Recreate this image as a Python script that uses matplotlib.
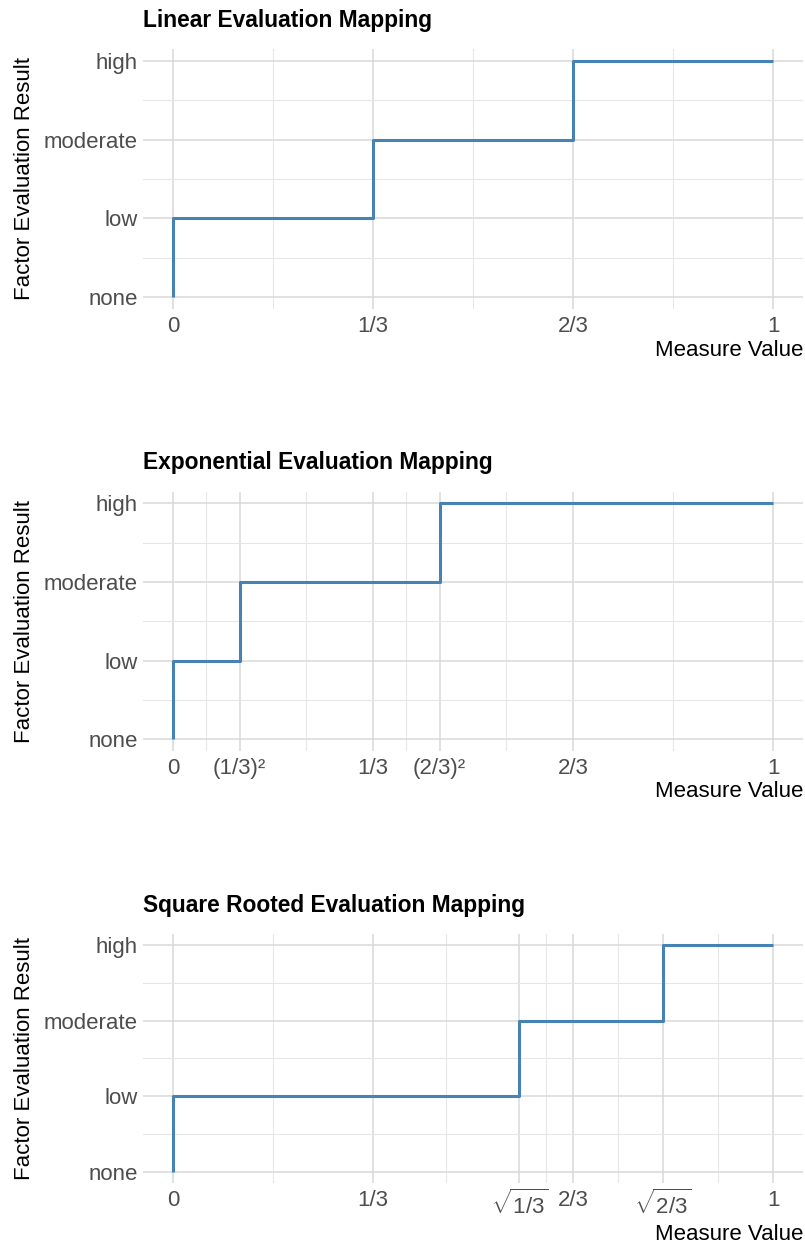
import numpy as np
import matplotlib
matplotlib.use('Agg')
import matplotlib.pyplot as plt

plt.rcParams['font.family'] = ['Liberation Sans', 'DejaVu Sans']
plt.rcParams['mathtext.fontset'] = 'custom'
plt.rcParams['mathtext.rm'] = 'Liberation Sans'
plt.rcParams['mathtext.it'] = 'Liberation Sans:italic'
plt.rcParams['mathtext.bf'] = 'Liberation Sans:bold'

# Daten
levels = ['none', 'low', 'moderate', 'high']
level_values = [0, 1, 2, 3]

titles = ['Linear Evaluation Mapping',
          'Exponential Evaluation Mapping',
          'Square Rooted Evaluation Mapping']

# Schwellen (Grenzen zwischen low/moderate/high)
linear_steps = [1/3, 2/3]
exp_steps = [(1/3)**2, (2/3)**2]
sqrt_steps = [np.sqrt(1/3), np.sqrt(2/3)]

linear_breaks = [0, 1/3, 2/3, 1]
linear_labels = ['0', '1/3', '2/3', '1']
exp_breaks = [0, (1/3)**2, 1/3, (2/3)**2, 2/3, 1]
exp_labels = ['0', '(1/3)²', '1/3', '(2/3)²', '2/3', '1']
sqrt_breaks = [0, 1/3, np.sqrt(1/3), 2/3, np.sqrt(2/3), 1]
sqrt_labels = ['0', '1/3', r'$\sqrt{1/3}$', '2/3', r'$\sqrt{2/3}$', '1']

panels = [
    (titles[0], linear_steps, linear_breaks, linear_labels),
    (titles[1], exp_steps, exp_breaks, exp_labels),
    (titles[2], sqrt_steps, sqrt_breaks, sqrt_labels),
]

W, H = 805, 1243
fig = plt.figure(figsize=(W / 100, H / 100), dpi=100)

# Panel-Positionen in Pixeln (oben, unten, Abstand x-Titel)
boxes = [(49.2, 308.8, 47), (491.5, 751.0, 46), (933.7, 1183.0, 57)]
left, right = 143, 803

line_col = '#4682B4'
grid_major = '#D9D9D9'
grid_minor = '#E6E6E6'
text_grey = '#4D4D4D'

for (title, steps, breaks, labels), (top, bottom, xt_off) in zip(panels, boxes):
    ax = fig.add_axes([left / W, 1 - bottom / H, (right - left) / W, (bottom - top) / H])
    x = [0, 0, steps[0], steps[1], 1]
    y = [0, 1, 2, 3, 3]
    ax.plot(x, y, drawstyle='steps-post', color=line_col, lw=2.2,
            solid_capstyle='butt', zorder=3)

    ax.set_xlim(-0.05, 1.05)
    ax.set_ylim(-0.15, 3.15)
    ax.set_xticks(breaks)
    ax.set_xticklabels(labels)
    ax.set_yticks(level_values)
    ax.set_yticklabels(levels)

    b = np.array(breaks)
    ax.set_xticks((b[:-1] + b[1:]) / 2, minor=True)
    lv = np.array(level_values)
    ax.set_yticks((lv[:-1] + lv[1:]) / 2, minor=True)

    ax.grid(which='major', color=grid_major, lw=1.1)
    ax.grid(which='minor', color=grid_minor, lw=0.75)
    ax.set_axisbelow(True)
    for s in ax.spines.values():
        s.set_visible(False)
    ax.tick_params(which='both', length=0)
    ax.tick_params(axis='x', pad=5, labelsize=16, labelcolor=text_grey)
    ax.tick_params(axis='y', pad=4, labelsize=16, labelcolor=text_grey)

    fig.text(left / W, 1 - (top - 22) / H, title, fontsize=16.4, fontweight='bold',
             ha='left', va='baseline')
    fig.text(right / W, 1 - (bottom + xt_off) / H, 'Measure Value', fontsize=16,
             ha='right', va='baseline')
    fig.text(25 / W, 1 - ((top + bottom) / 2) / H, 'Factor Evaluation Result',
             fontsize=16, rotation=90, ha='center', va='center')

fig.savefig('out.png', dpi=100)
